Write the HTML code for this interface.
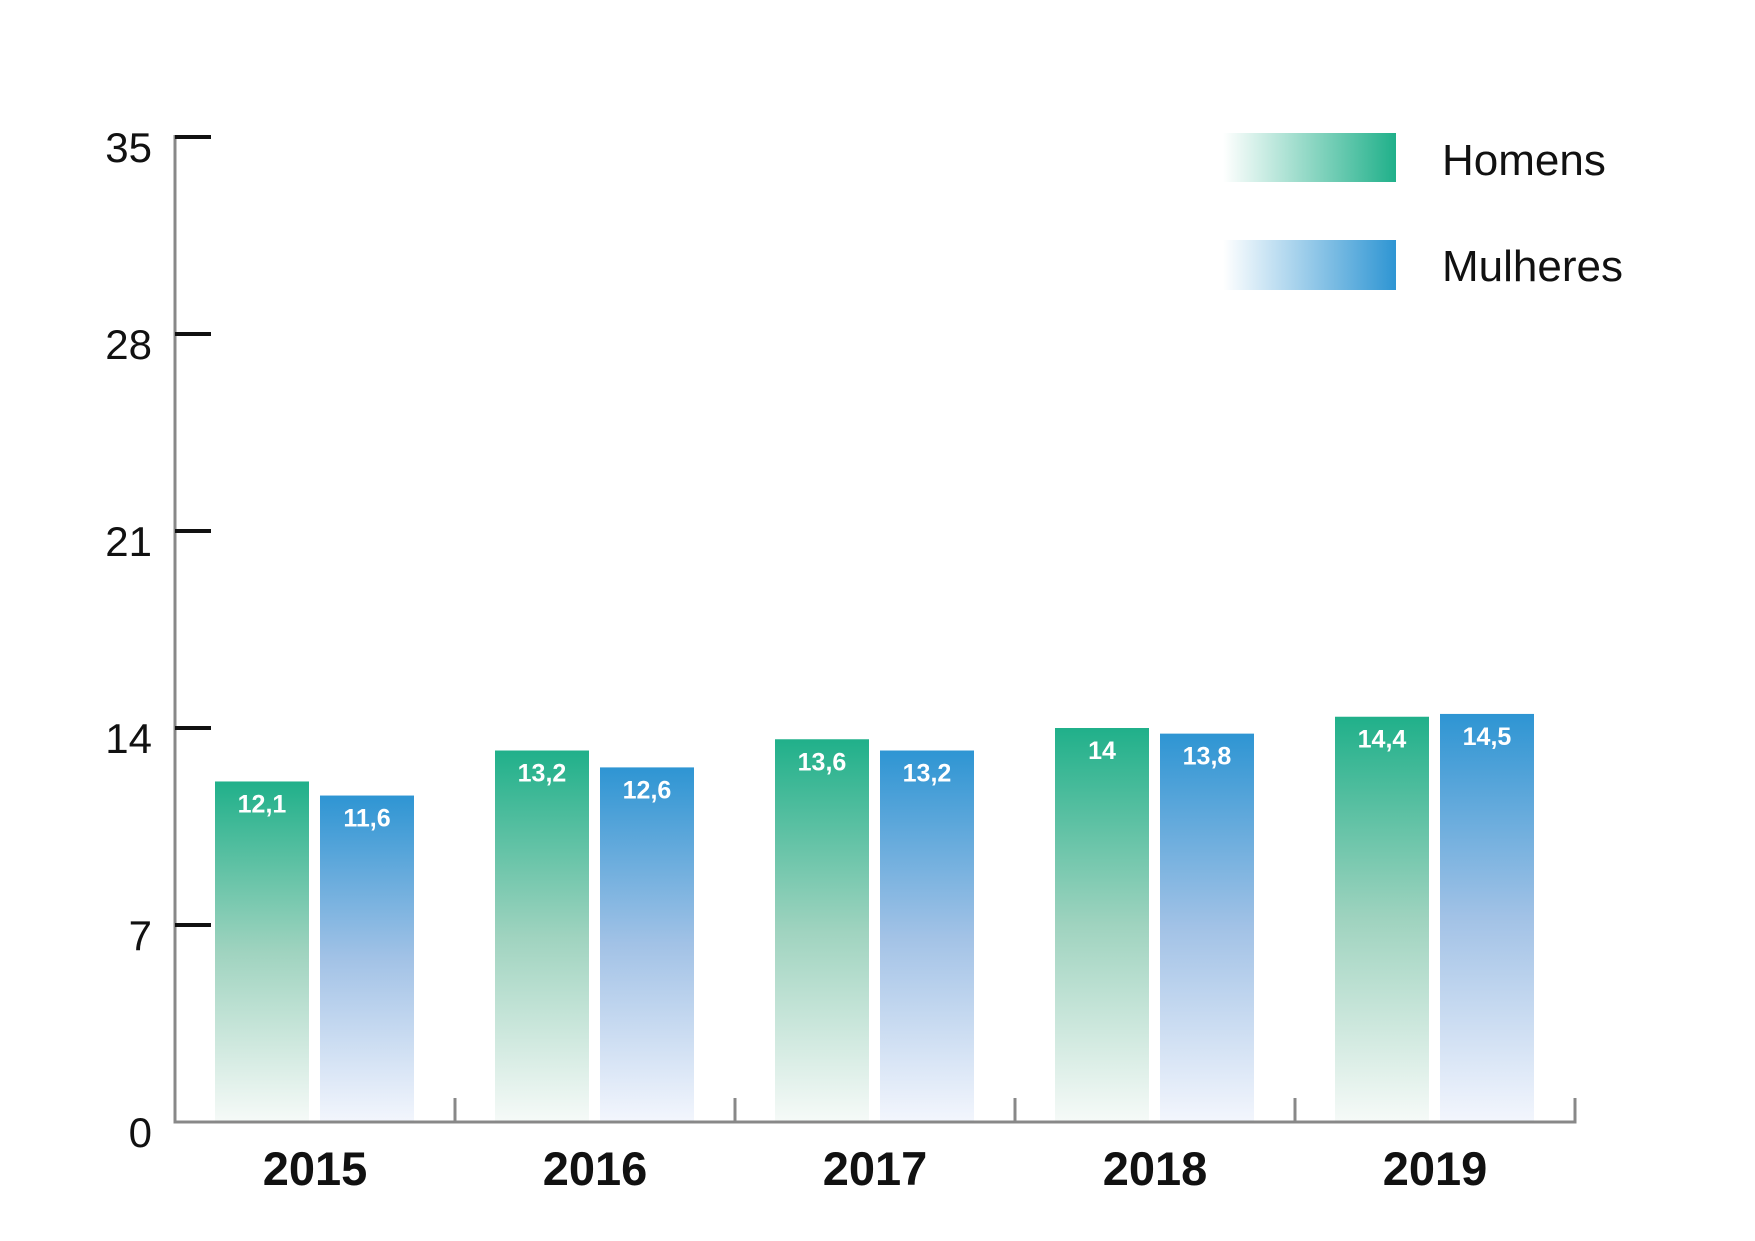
<!DOCTYPE html>
<html><head><meta charset="utf-8"><style>
html,body{margin:0;padding:0;background:#fff;}
svg{display:block;font-family:"Liberation Sans",sans-serif;}
</style></head><body>
<svg id="chart" width="1755" height="1241" viewBox="0 0 1755 1241" xmlns="http://www.w3.org/2000/svg">
<defs>
<linearGradient id="gH" x1="0" y1="0" x2="0" y2="1">
<stop offset="0" stop-color="#20b08a"/><stop offset="0.5" stop-color="#9fd3bf"/><stop offset="1" stop-color="#f6faf8"/>
</linearGradient>
<linearGradient id="gM" x1="0" y1="0" x2="0" y2="1">
<stop offset="0" stop-color="#2e95d3"/><stop offset="0.5" stop-color="#a2c2e6"/><stop offset="1" stop-color="#f3f6fd"/>
</linearGradient>
<linearGradient id="lH" x1="0" y1="0" x2="1" y2="0">
<stop offset="0" stop-color="#20b08a" stop-opacity="0"/><stop offset="1" stop-color="#20b08a"/>
</linearGradient>
<linearGradient id="lM" x1="0" y1="0" x2="1" y2="0">
<stop offset="0" stop-color="#2e95d3" stop-opacity="0"/><stop offset="1" stop-color="#2e95d3"/>
</linearGradient>
</defs>
<g id="bars"></g>
<g id="axes"></g>
<g>
<rect x="1223" y="133" width="173" height="49" fill="url(#lH)"/>
<text x="1442" y="175" font-size="44" fill="#111">Homens</text>
<rect x="1223" y="240" width="173" height="50" fill="url(#lM)"/>
<text x="1442" y="281" font-size="44" fill="#111">Mulheres</text>
</g>
</svg>
<script>
const categories = ["2015","2016","2017","2018","2019"];
const homens = [12.1, 13.2, 13.6, 14, 14.4];
const mulheres = [11.6, 12.6, 13.2, 13.8, 14.5];
const yTicks = [0, 7, 14, 21, 28, 35];

const NS = "http://www.w3.org/2000/svg";
const x0 = 175, groupW = 280, baseY = 1122, pxPerUnit = 197/7;
function y(v){ return baseY - v*pxPerUnit; }
function gx(i){ return x0 + i*groupW; }
function mk(tag, attrs, parent){
  const e = document.createElementNS(NS, tag);
  for (const k in attrs) e.setAttribute(k, attrs[k]);
  parent.appendChild(e); return e;
}
const bars = document.getElementById('bars');
const axes = document.getElementById('axes');
const fmt = v => String(v).replace('.', ',');

categories.forEach((c, i) => {
  [[homens, 40, 'url(#gH)', 'homens'], [mulheres, 145, 'url(#gM)', 'mulheres']].forEach(([arr, off, fill, nm]) => {
    const v = arr[i];
    const r = mk('rect', {x: gx(i)+off, y: y(v), width: 94, height: baseY - y(v), fill: fill}, bars);
    
    
    const t = mk('text', {x: gx(i)+off+47, y: y(v)+31, 'font-size': 25, 'font-weight': 'bold', fill: '#fff', 'text-anchor': 'middle'}, bars);
    t.textContent = fmt(v);
    
    
  });
  const yl = mk('text', {x: gx(i)+140, y: 1185, 'font-size': 47, 'font-weight': 'bold', fill: '#111', 'text-anchor': 'middle'}, axes);
  yl.textContent = c;
  
  
  const tk = mk('line', {x1: gx(i+1), x2: gx(i+1), y1: baseY, y2: baseY-24, stroke: '#888', 'stroke-width': 3}, axes);
  
  
});

const yAxis = mk('line', {x1: x0, x2: x0, y1: y(35)-2, y2: baseY+1.5, stroke: '#888', 'stroke-width': 3}, axes);


const xAxis = mk('line', {x1: x0-1.5, x2: gx(5)+1.5, y1: baseY, y2: baseY, stroke: '#888', 'stroke-width': 3}, axes);



yTicks.forEach(v => {
  if (v > 0) {
    const l = mk('line', {x1: x0, x2: 211, y1: y(v), y2: y(v), stroke: '#111', 'stroke-width': 4}, axes);
    
    
  }
  const t = mk('text', {x: 152, y: y(v)+25, 'font-size': 42, fill: '#111', 'text-anchor': 'end'}, axes);
  t.textContent = v;
  
  
});
</script>
</body></html>
